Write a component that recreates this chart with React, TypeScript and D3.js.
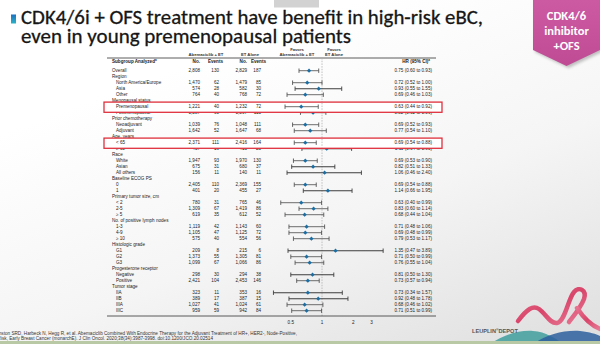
import React from "react";
import * as d3 from "d3";

const titleLines = [
  "CDK4/6i + OFS treatment have benefit in high-risk eBC,",
  "even in young premenopausal patients",
];
const badgeLines = ["CDK4/6", "inhibitor", "+OFS"];

const labels = [
  "Overall", "Region", "North America/Europe", "Asia", "Other",
  "Menopausal status", "Premenopausal", "Postmenopausal",
  "Prior chemotherapy", "Neoadjuvant", "Adjuvant",
  "Age, years", "< 65", "\u2265 65",
  "Race", "White", "Asian", "All others",
  "Baseline ECOG PS", "0", "1",
  "Primary tumor size, cm", "< 2", "2-5", "\u2265 5",
  "No. of positive lymph nodes", "1-3", "4-9", "\u2265 10",
  "Histologic grade", "G1", "G2", "G3",
  "Progesterone receptor", "Negative", "Positive",
  "Tumor stage", "IIA", "IIB", "IIIA", "IIIC",
];
const indent = [0,0,1,1,1,0,1,1,0,1,1,0,1,1,0,1,1,1,0,1,1,0,1,1,1,0,1,1,1,0,1,1,1,0,1,1,0,1,1,1,1];

const abemaN = ["2,808","","1,470","574","764","","1,221","1,587","","1,039","1,642","","2,371","437","","1,947","675","156","","2,405","401","","780","1,309","619","","1,119","1,105","575","","209","1,373","1,099","","298","2,421","","323","389","1,027","959"];
const abemaEv = ["130","","62","28","40","","40","90","","76","52","","111","19","","93","31","11","","110","20","","31","67","35","","42","47","40","","8","55","67","","30","104","","11","17","41","59"];
const etN = ["2,829","","1,479","582","768","","1,232","1,597","","1,048","1,647","","2,416","413","","1,970","680","140","","2,369","455","","765","1,419","612","","1,143","1,125","554","","215","1,305","1,066","","294","2,453","","353","387","1,024","942"];
const etEv = ["187","","85","30","72","","72","115","","111","68","","164","23","","130","37","11","","155","27","","46","86","52","","60","72","56","","6","81","86","","38","146","","16","15","61","84"];

const hr = [0.75,null,0.72,0.93,0.69,null,0.63,0.82,null,0.69,0.77,null,0.69,1.11,null,0.69,0.82,1.06,null,0.69,1.14,null,0.63,0.83,0.68,null,0.71,0.69,0.79,null,1.35,0.71,0.76,null,0.81,0.73,null,0.73,0.92,0.68,0.71];
const lo = [0.60,null,0.52,0.55,0.46,null,0.44,0.62,null,0.52,0.54,null,0.54,0.64,null,0.53,0.51,0.46,null,0.54,0.66,null,0.40,0.60,0.44,null,0.48,0.48,0.53,null,0.47,0.50,0.55,null,0.50,0.57,null,0.34,0.48,0.46,0.51];
const hi = [0.93,null,1.00,1.55,1.03,null,0.92,1.09,null,0.93,1.10,null,0.88,1.93,null,0.90,1.33,2.40,null,0.88,1.95,null,0.99,1.14,1.04,null,1.06,0.99,1.17,null,3.89,0.99,1.04,null,1.30,0.94,null,1.57,1.78,1.02,0.99];

const axisTicks = [0.5, 1, 2, 3];
const highlighted = [6, 12];

const citation1 = "Johnston SRD, Harbeck N, Hegg R, et al. Abemaciclib Combined With Endocrine Therapy for the Adjuvant Treatment of HR+, HER2-, Node-Positive,";
const citation2 = "High-Risk, Early Breast Cancer (monarchE). J Clin Oncol. 2020;38(34):3987-3998. doi:10.1200/JCO.20.02514";

const TF = "'Liberation Sans', Arial, sans-serif";
const TITLE_F = "Carlito, Lato, 'Open Sans', sans-serif";

export default function App() {
  const x = d3.scaleLog().domain([0.25, 4]).range([259.6, 384.4]);
  const y = d3.scalePoint<number>().domain(labels.map((_, i) => i)).range([70.7, 310.7]);
  const fs = 4.6;
  const fmt = d3.format(".2f");

  const renderRow = (i: number) => {
    const yy = y(i) as number;
    const h = hr[i];
    const wide = h != null && (hi[i] as number) / (lo[i] as number) > 2.5;
    const ciColor = wide ? "#3d3d3d" : "#555";
    const ciW = wide ? 1.1 : 0.85;
    return (
      <g key={"r" + i}>
        <text x={indent[i] ? 116 : 112} y={yy} fontSize={fs} dominantBaseline="central" fill="#222">{labels[i]}</text>
        <text x={200} y={yy} fontSize={fs} textAnchor="end" dominantBaseline="central" fill="#222">{abemaN[i]}</text>
        <text x={219} y={yy} fontSize={fs} textAnchor="end" dominantBaseline="central" fill="#222">{abemaEv[i]}</text>
        <text x={247} y={yy} fontSize={fs} textAnchor="end" dominantBaseline="central" fill="#222">{etN[i]}</text>
        <text x={261} y={yy} fontSize={fs} textAnchor="end" dominantBaseline="central" fill="#222">{etEv[i]}</text>
        {h != null && (
          <g>
            <line x1={x(lo[i] as number)} x2={x(hi[i] as number)} y1={yy} y2={yy} stroke={ciColor} strokeWidth={ciW} />
            <line x1={x(lo[i] as number)} x2={x(lo[i] as number)} y1={yy - 2.2} y2={yy + 2.2} stroke={ciColor} strokeWidth={0.9} />
            <line x1={x(hi[i] as number)} x2={x(hi[i] as number)} y1={yy - 2.2} y2={yy + 2.2} stroke={ciColor} strokeWidth={0.9} />
            <path d={`M${x(h)},${yy - 2.1} L${x(h) + 2.1},${yy} L${x(h)},${yy + 2.1} L${x(h) - 2.1},${yy} Z`} fill="#1a6ea3" />
            <text x={432} y={yy} fontSize={fs} textAnchor="end" dominantBaseline="central" fill="#222">
              {`${fmt(h)} (${fmt(lo[i] as number)} to ${fmt(hi[i] as number)})`}
            </text>
          </g>
        )}
      </g>
    );
  };

  const normalRows = labels.map((_, i) => i).filter((i) => !highlighted.includes(i));

  return (
    <svg width={600} height={344} style={{ position: "absolute", left: 0, top: 0 }} fontFamily={TF}>
      <defs>
        <linearGradient id="bg" x1="0.45" y1="0.1" x2="1" y2="0.95">
          <stop offset="0" stopColor="#ffffff" />
          <stop offset="0.5" stopColor="#f5f5f5" />
          <stop offset="1" stopColor="#e0e0e0" />
        </linearGradient>
        <linearGradient id="mark" x1="0" y1="0" x2="0" y2="1">
          <stop offset="0" stopColor="#1d6fc0" />
          <stop offset="1" stopColor="#2cb3c6" />
        </linearGradient>
        <linearGradient id="badge" x1="0" y1="0" x2="0" y2="1">
          <stop offset="0" stopColor="#cc5aa2" />
          <stop offset="1" stopColor="#c04b95" />
        </linearGradient>
        <linearGradient id="rib" x1="0" y1="0" x2="1" y2="1">
          <stop offset="0" stopColor="#e8718f" />
          <stop offset="0.5" stopColor="#d9456b" />
          <stop offset="1" stopColor="#e77a95" />
        </linearGradient>
        <filter id="sh" x="-20%" y="-20%" width="140%" height="140%">
          <feGaussianBlur stdDeviation="1.5" />
        </filter>
      </defs>
      <rect x={0} y={0} width={600} height={344} fill="url(#bg)" />

      {/* watermark box */}
      <rect x={274} y={0} width={45} height={7.5} fill="#d2d2d2" />

      {/* title */}
      <rect x={11} y={14.5} width={5} height={9} fill="url(#mark)" />
      <g fontSize={21} fontFamily={TITLE_F} fill="#161616" stroke="#161616" strokeWidth={0.3}>
        <text x={21} y={23.5} textLength={462} lengthAdjust="spacingAndGlyphs">{titleLines[0]}</text>
        <text x={21} y={42.5} textLength={330} lengthAdjust="spacingAndGlyphs">{titleLines[1]}</text>
      </g>

      {/* badge */}
      <path d="M535,2 H602 V52 L568.5,68 L535,52 Z" fill="#777" opacity={0.45} filter="url(#sh)" />
      <path d="M533,0 H600 V50 L566.5,66 L533,50 Z" fill="url(#badge)" />
      {badgeLines.map((t, i) => (
        <text key={t} x={566.5} y={15.5 + i * 15} fontSize={12.5} fontWeight="bold" fontFamily={TITLE_F} fill="#fff" textAnchor="middle" dominantBaseline="central">{t}</text>
      ))}

      {/* table top header */}
      <g fontSize={4.2} fontWeight="bold" fill="#333" textAnchor="middle">
        <text x={206} y={54} dominantBaseline="central">Abemaciclib + ET</text>
        <text x={250} y={54} dominantBaseline="central">ET Alone</text>
        <text x={297} y={49.2} dominantBaseline="central">Favors</text>
        <text x={297} y={54} dominantBaseline="central">Abemaciclib + ET</text>
        <text x={334} y={49.2} dominantBaseline="central">Favors</text>
        <text x={334} y={54} dominantBaseline="central">ET Alone</text>
      </g>
      <line x1={107} x2={436} y1={58} y2={58} stroke="#333" strokeWidth={0.8} />
      <g fontSize={4.6} fontWeight="bold" fill="#222" dominantBaseline="central">
        <text x={112} y={61.5}>Subgroup Analyzed<tspan fontSize={3} dy={-1.2}>a</tspan></text>
        <text x={200} y={61.5} textAnchor="end">No.</text>
        <text x={223} y={61.5} textAnchor="end">Events</text>
        <text x={247} y={61.5} textAnchor="end">No.</text>
        <text x={266} y={61.5} textAnchor="end">Events</text>
        <text x={430} y={61.5} textAnchor="end">HR (95% CI)<tspan fontSize={3} dy={-1.2}>a</tspan></text>
      </g>

      {/* reference line at HR = 1 */}
      <line x1={x(1)} x2={x(1)} y1={58} y2={316} stroke="#b0b0b0" strokeWidth={0.8} strokeDasharray="1.5,1.2" />

      {normalRows.map(renderRow)}

      {/* highlight boxes */}
      {highlighted.map((i) => (
        <rect key={"hb" + i} x={104} y={(y(i) as number) - 4.6} width={338} height={10.2} fill="#fff" stroke="#e0303c" strokeWidth={1.3} />
      ))}
      {highlighted.map((i) => (
        <line key={"hl" + i} x1={x(1)} x2={x(1)} y1={(y(i) as number) - 3.8} y2={(y(i) as number) + 4.8} stroke="#b0b0b0" strokeWidth={0.8} strokeDasharray="1.5,1.2" />
      ))}
      {highlighted.map(renderRow)}

      {/* bottom rule and axis */}
      <line x1={107} x2={436} y1={316} y2={316} stroke="#333" strokeWidth={0.8} />
      {axisTicks.map((t) => (
        <text key={t} x={x(t)} y={322.3} fontSize={4.6} textAnchor="middle" dominantBaseline="central" fill="#222">{t}</text>
      ))}

      {/* citation */}
      <text x={297} y={333.3} fontSize={4.65} textAnchor="end" dominantBaseline="central" fill="#333">{citation1}</text>
      <text x={213} y={338.3} fontSize={4.65} textAnchor="end" dominantBaseline="central" fill="#333">{citation2}</text>

      {/* decorations bottom-right */}
      <path d="M490,344 C503,335 518,330 533,331 C546,332 555,338 563,344 Z" fill="#3f9e9e" opacity={0.85} />
      <path d="M533,344 C548,334 564,330 580,331 C590,332 596,334 600,336 V344 Z" fill="#2c5f9e" opacity={0.85} />
      <path d="M518,321 C527,309 533,305 539,309 C546,314 550,324 557,323 C565,322 568,299 574,292 C579,286 587,290 584,299 C581,307 576,313 569,322"
        fill="none" stroke="url(#rib)" strokeWidth={4.5} strokeLinecap="round" />
      <path d="M577,308 C583,317 590,325 600,329" fill="none" stroke="url(#rib)" strokeWidth={4.5} strokeLinecap="round" />
      <text x={472} y={331} fontSize={5.6} fontWeight="bold" fill="#555" dominantBaseline="central">LEUPLIN<tspan fontSize={3.5} dy={-1.5}>®</tspan><tspan dy={1.5}>DEPOT</tspan></text>
      <rect x={0} y={341} width={600} height={3} fill="#b9c9a6" />
    </svg>
  );
}
